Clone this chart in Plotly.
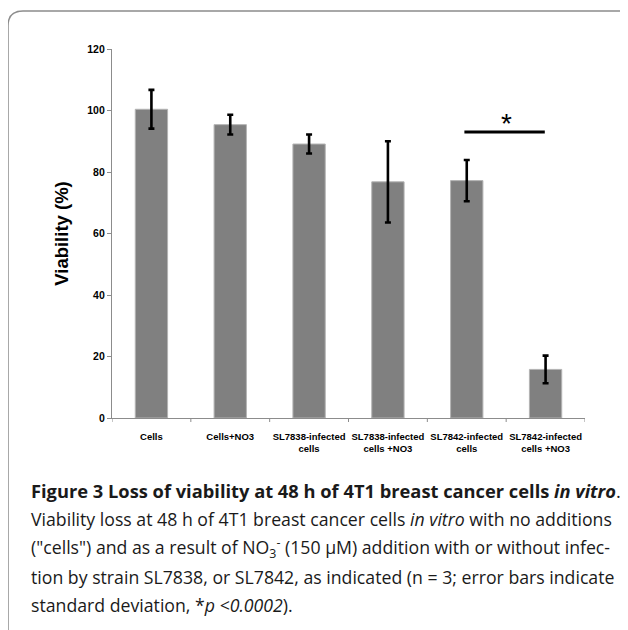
import plotly.graph_objects as go

categories = ["Cells", "Cells+NO3", "SL7838-infected<br>cells", "SL7838-infected<br>cells +NO3",
              "SL7842-infected<br>cells", "SL7842-infected<br>cells +NO3"]
viability = [100.4, 95.4, 89.1, 76.8, 77.2, 15.8]
std_dev = [6.3, 3.2, 3.1, 13.2, 6.7, 4.5]
y_ticks = [0, 20, 40, 60, 80, 100, 120]
sig_pair = [4, 5]
sig_level = 93

OFF = 8  # page body margin
W, H = 628 - OFF, 630 - OFF
L, T = 112 - OFF, 49 - OFF
R = W - (585 - OFF)
B = H - (418 - OFF)
pw, ph = W - L - R, H - T - B

def px(xs):  # screen x -> paper
    return (xs - OFF - L) / pw

def py(ys):  # screen y -> paper
    return (H - B - (ys - OFF)) / ph

fig = go.Figure()
fig.add_trace(go.Bar(
    x=list(range(len(categories))), y=viability,
    width=0.41,
    marker=dict(color="#808080", line=dict(color="#b4b4b4", width=1)),
    error_y=dict(type="data", array=std_dev, color="black", thickness=2.6, width=3),
))

# significance bar and asterisk
fig.add_shape(type="line", xref="x", yref="y", x0=sig_pair[0] - 0.03, x1=sig_pair[1] - 0.01,
              y0=sig_level, y1=sig_level, line=dict(color="black", width=3.2))
fig.add_annotation(x=(sig_pair[0] + sig_pair[1]) / 2, y=sig_level, xref="x", yref="y",
                   text="*", showarrow=False, yanchor="bottom", yshift=-9,
                   font=dict(family="Liberation Sans", size=28, color="black"))

# rounded frame
r = 15
fig.add_shape(type="path", xref="paper", yref="paper",
              path=(f"M {px(8)},{py(660)} L {px(8)},{py(11 + r)} "
                    f"Q {px(8)},{py(11)} {px(8 + r)},{py(11)} L {px(660)},{py(11)}"),
              line=dict(color="#8c8c8c", width=1.5))

caption = [
    ("<b>Figure 3 Loss of viability at 48 h of 4T1 breast cancer cells <i>in vitro</i></b>.", 490, 18.3),
    ("Viability loss at 48 h of 4T1 breast cancer cells <i>in vitro</i> with no additions", 519, 17.7),
    ("(\"cells\") and as a result of NO<sub>3</sub><sup>-</sup> (150 µM) addition with or without infec-", 548, 17.7),
    ("tion by strain SL7838, or SL7842, as indicated (n = 3; error bars indicate", 577, 17.7),
    ("standard deviation, *<i>p <0.0002</i>).", 605, 17.7),
]
for txt, yy, sz in caption:
    fig.add_annotation(x=px(29), y=py(yy), xref="paper", yref="paper", text=txt,
                       showarrow=False, xanchor="left", yanchor="middle",
                       font=dict(family="Open Sans", size=sz, color="#1a1a1a"))

fig.update_layout(
    width=W, height=H,
    margin=dict(l=L, r=R, t=T, b=B),
    paper_bgcolor="white", plot_bgcolor="white",
    showlegend=False,
    bargap=0.59,
    xaxis=dict(
        tickmode="array", tickvals=list(range(len(categories))), ticktext=categories,
        range=[-0.5, len(categories) - 0.5],
        showline=True, linecolor="#8c8c8c", linewidth=1.2,
        ticks="", showgrid=False, zeroline=False,
        tickfont=dict(family="Liberation Sans", size=9.5, color="black", weight="bold"),
        ticklabelstandoff=9,
    ),
    yaxis=dict(
        range=[0, 120], tickvals=y_ticks,
        showline=True, linecolor="#8c8c8c", linewidth=1.2,
        ticks="outside", ticklen=4, tickcolor="#8c8c8c",
        showgrid=False, zeroline=False,
        tickfont=dict(family="Liberation Sans", size=10.5, color="black", weight="bold"),
        title=dict(text="<b>Viability (%)</b>", standoff=13,
                   font=dict(family="Liberation Sans", size=18.5, color="black")),
    ),
)

# category boundary ticks on x axis
for k in range(len(categories) + 1):
    fig.add_shape(type="line", xref="x", yref="paper", x0=k - 0.5, x1=k - 0.5,
                  y0=0, y1=py(418 + 4), line=dict(color="#8c8c8c", width=1))

fig.write_html("out.html")
